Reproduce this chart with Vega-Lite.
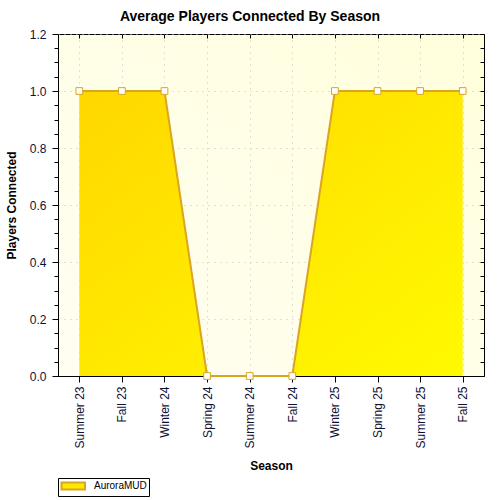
{
  "$schema": "https://vega.github.io/schema/vega-lite/v6.json",
  "autosize": {"type": "none"},
  "width": 426,
  "height": 342,
  "padding": {"left": 58, "top": 34, "right": 16, "bottom": 124},
  "background": "white",
  "title": {
    "text": "Average Players Connected By Season",
    "font": "Liberation Sans",
    "fontSize": 14,
    "fontWeight": "bold",
    "color": "black",
    "anchor": "middle",
    "dx": -21,
    "offset": 4
  },
  "config": {
    "view": {
      "stroke": "black",
      "strokeWidth": 1,
      "fill": {"gradient": "linear", "x1": 1, "y1": 0, "x2": 0, "y2": 1, "stops": [{"offset": 0, "color": "#FFFFDC"}, {"offset": 1, "color": "#FFFEF2"}]}
    },
    "axis": {
      "labelFont": "Liberation Sans",
      "labelFontSize": 12,
      "labelColor": "#111133",
      "titleFont": "Liberation Sans",
      "titleFontSize": 12,
      "titleFontWeight": "bold",
      "titleColor": "black",
      "domainColor": "black",
      "tickColor": "black",
      "gridColor": "#c4c4c4",
      "gridDash": [1, 5]
    }
  },
  "data": {
    "values": [
      {"season": "Summer 23", "players": 1, "series": "AuroraMUD"},
      {"season": "Fall 23", "players": 1, "series": "AuroraMUD"},
      {"season": "Winter 24", "players": 1, "series": "AuroraMUD"},
      {"season": "Spring 24", "players": 0, "series": "AuroraMUD"},
      {"season": "Summer 24", "players": 0, "series": "AuroraMUD"},
      {"season": "Fall 24", "players": 0, "series": "AuroraMUD"},
      {"season": "Winter 25", "players": 1, "series": "AuroraMUD"},
      {"season": "Spring 25", "players": 1, "series": "AuroraMUD"},
      {"season": "Summer 25", "players": 1, "series": "AuroraMUD"},
      {"season": "Fall 25", "players": 1, "series": "AuroraMUD"}
    ]
  },
  "resolve": {"axis": {"x": "independent", "y": "independent"}},
  "layer": [
    {
      "mark": {
        "type": "area",
        "color": {"gradient": "linear", "x1": 0, "y1": 0, "x2": 1, "y2": 1, "stops": [{"offset": 0, "color": "#FFD700"}, {"offset": 1, "color": "#FFFA00"}]}
      },
      "encoding": {
        "x": {
          "field": "season", "type": "ordinal", "sort": null,
          "scale": {"type": "point", "padding": 0.5},
          "axis": {
            "orient": "bottom",
            "title": "Season",
            "labelAngle": -90,
            "labelAlign": "right",
            "labelBaseline": "middle",
            "labelPadding": 4,
            "tickSize": 6,
            "grid": true,
            "titlePadding": 12
          }
        },
        "y": {
          "field": "players", "type": "quantitative",
          "scale": {"domain": [0, 1.2], "nice": false},
          "axis": {
            "orient": "left",
            "title": "Players Connected",
            "values": [0, 0.05, 0.1, 0.15, 0.2, 0.25, 0.3, 0.35, 0.4, 0.45, 0.5, 0.55, 0.6, 0.65, 0.7, 0.75, 0.8, 0.85, 0.9, 0.95, 1.0, 1.05, 1.1, 1.15, 1.2],
            "labelExpr": "abs(datum.value*5 - round(datum.value*5)) < 0.001 ? format(datum.value, '.1f') : ''",
            "tickSize": {"condition": {"test": "abs(datum.value*5 - round(datum.value*5)) < 0.001", "value": 6}, "value": 4},
            "gridOpacity": {"condition": {"test": "abs(datum.value*5 - round(datum.value*5)) < 0.001", "value": 1}, "value": 0},
            "grid": true,
            "labelPadding": 6,
            "titlePadding": 11
          }
        }
      }
    },
    {
      "mark": {"type": "line", "strokeWidth": 2},
      "encoding": {
        "x": {"field": "season", "type": "ordinal", "sort": null, "axis": null},
        "y": {"field": "players", "type": "quantitative", "axis": null},
        "stroke": {
          "field": "series", "type": "nominal",
          "scale": {"range": ["#DAA520"]},
          "legend": {
            "title": null,
            "orient": "none",
            "legendX": 0,
            "legendY": 444,
            "strokeColor": "black",
            "fillColor": "white",
            "padding": 2,
            "labelFont": "Liberation Sans",
            "labelFontSize": 10,
            "labelColor": "black",
            "symbolType": "M-0.9,-0.7H3.8V0.7H-0.9Z",
            "symbolSize": 100,
            "symbolFillColor": "#FFE800",
            "symbolStrokeWidth": 2,
            "labelOffset": 22
          }
        }
      }
    },
    {
      "mark": {"type": "point", "shape": "square", "filled": true, "fill": "white", "stroke": "#DAA520", "strokeWidth": 1, "size": 45, "opacity": 1},
      "encoding": {
        "x": {
          "field": "season", "type": "ordinal", "sort": null,
          "axis": {"orient": "top", "title": null, "labels": false, "domain": false, "tickSize": -4, "grid": false}
        },
        "y": {
          "field": "players", "type": "quantitative",
          "axis": {
            "orient": "right", "title": null, "labels": false, "domain": false, "grid": false, "tickSize": -4,
            "values": [0, 0.05, 0.1, 0.15, 0.2, 0.25, 0.3, 0.35, 0.4, 0.45, 0.5, 0.55, 0.6, 0.65, 0.7, 0.75, 0.8, 0.85, 0.9, 0.95, 1.0, 1.05, 1.1, 1.15, 1.2]
          }
        }
      }
    }
  ]
}
